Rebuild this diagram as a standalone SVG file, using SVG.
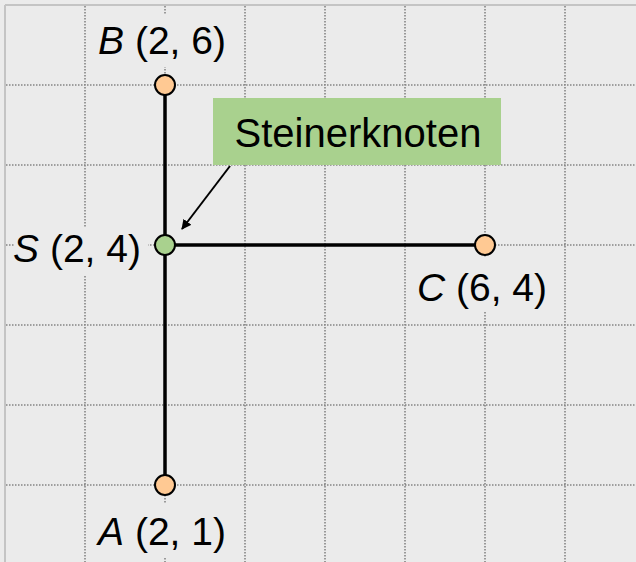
<svg xmlns="http://www.w3.org/2000/svg" width="636" height="562" viewBox="0 0 636 562">
<defs>
<style>
.grid{stroke:#858585;stroke-width:1.6;stroke-dasharray:1.5 1.5;fill:none}
.edge{stroke:#000;stroke-width:3.5;fill:none}
.lbl{font-family:"Liberation Sans",Arial,sans-serif;font-size:39px;fill:#000;text-anchor:middle}
.bg{fill:#ebebeb}
.term{fill:#ffc993;stroke:#000;stroke-width:2}
.stn{fill:#a9d18e;stroke:#000;stroke-width:2}
</style>
<marker id="arr" markerWidth="10" markerHeight="10" refX="9" refY="5" orient="auto" markerUnits="userSpaceOnUse" viewBox="0 0 10 10">
<path d="M0,0 L10,5 L0,10 z" fill="#000"/>
</marker>
</defs>
<rect x="0" y="0" width="636" height="562" fill="#ebebeb"/>
<g id="grid">
<line x1="5" y1="5" x2="636" y2="5" stroke="#c4c4c4" stroke-width="2"/>
<line x1="5" y1="5" x2="5" y2="562" stroke="#c4c4c4" stroke-width="2"/>
<path class="grid" d="M85,6V562M165,6V562M245,6V562M325,6V562M405,6V562M485,6V562M565,6V562M6,85H636M6,165H636M6,245H636M6,325H636M6,405H636M6,485H636"/>
</g>
<g id="connectors">
<line class="edge" x1="165" y1="85" x2="165" y2="485"/>
<line class="edge" x1="165" y1="245" x2="485" y2="245"/>
<line x1="230" y1="166" x2="182" y2="229" stroke="#000" stroke-width="2" marker-end="url(#arr)"/>
</g>
<g id="steiner-label">
<rect x="213" y="98" width="288" height="67" fill="#a9d18e"/>
<text x="358" y="147" style="font-family:'Liberation Sans',Arial,sans-serif;font-size:40px;text-anchor:middle">Steinerknoten</text>
</g>
<g id="node-B">
<rect class="bg" x="95" y="14" width="134" height="53"/>
<text class="lbl" x="162" y="54"><tspan font-style="italic">B</tspan> (2, 6)</text>
<circle class="term" cx="165" cy="85" r="10"/>
</g>
<g id="node-S">
<rect class="bg" x="14" y="228" width="134" height="48"/>
<text class="lbl" x="77" y="262"><tspan font-style="italic">S</tspan> (2, 4)</text>
<circle class="stn" cx="165" cy="245" r="10"/>
</g>
<g id="node-C">
<rect class="bg" x="414" y="257" width="136" height="55"/>
<text class="lbl" x="482" y="301"><tspan font-style="italic">C</tspan> (6, 4)</text>
<circle class="term" cx="485" cy="245" r="10"/>
</g>
<g id="node-A">
<rect class="bg" x="96" y="503" width="134" height="54"/>
<text class="lbl" x="162" y="545"><tspan font-style="italic">A</tspan> (2, 1)</text>
<circle class="term" cx="165" cy="485" r="10"/>
</g>
</svg>
